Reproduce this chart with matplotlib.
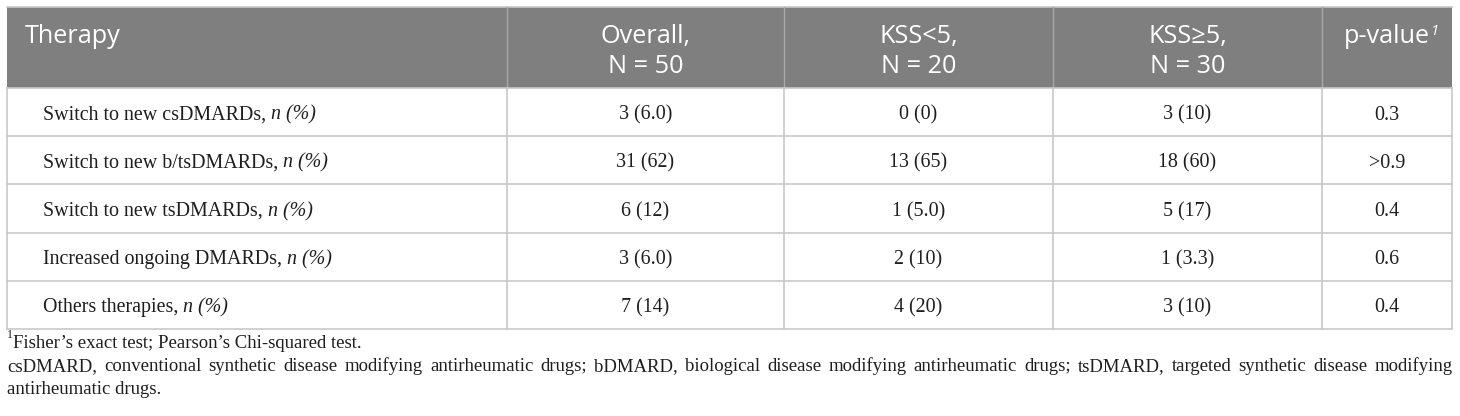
import matplotlib
matplotlib.use('Agg')
import matplotlib.pyplot as plt
from matplotlib.patches import Rectangle

# table content
header = ['Therapy', 'Overall,\nN = 50', 'KSS<5,\nN = 20', 'KSS≥5,\nN = 30', 'p-value']
therapy = ['Switch to new csDMARDs', 'Switch to new b/tsDMARDs', 'Switch to new tsDMARDs',
           'Increased ongoing DMARDs', 'Others therapies']
overall = ['3 (6.0)', '31 (62)', '6 (12)', '3 (6.0)', '7 (14)']
kss_lt5 = ['0 (0)', '13 (65)', '1 (5.0)', '2 (10)', '4 (20)']
kss_ge5 = ['3 (10)', '18 (60)', '5 (17)', '1 (3.3)', '3 (10)']
pvalue = ['0.3', '>0.9', '0.4', '0.6', '0.4']
note1 = 'Fisher’s exact test; Pearson’s Chi-squared test.'
note2 = ('csDMARD, conventional synthetic disease modifying antirheumatic drugs; bDMARD, '
         'biological disease modifying antirheumatic drugs; tsDMARD, targeted synthetic disease modifying')
note3 = 'antirheumatic drugs.'

# layout (pixels)
W, H = 1460, 416
col_x = [7, 507, 784, 1053, 1322, 1452]
top = 7
head_bot = 88
row_h = 48.2
grid = '#c8c8c8'
head_bg = '#7f7f7f'
ink = '#1e1e1e'
serif = 'Liberation Serif'
sans = ['Open Sans', 'DejaVu Sans']
body_fs = 14.4
head_fs = 18.2
note_fs = 13.5

fig = plt.figure(figsize=(W / 100, H / 100), dpi=100)
ax = fig.add_axes([0, 0, 1, 1])
ax.set_xlim(0, W)
ax.set_ylim(H, 0)
ax.axis('off')
rend = fig.canvas.get_renderer()


def width(t):
    return t.get_window_extent(renderer=rend).width


def run(x, y, pieces, fs, family):
    # draw text pieces one after another on the same baseline
    for s, style in pieces:
        t = ax.text(x, y, s, fontsize=fs, family=family, style=style,
                    color=ink, va='baseline', ha='left')
        x += width(t)
    return x


# header
ax.add_patch(Rectangle((col_x[0], top), col_x[-1] - col_x[0], head_bot - top,
                       facecolor=head_bg, edgecolor='none'))
ax.plot([col_x[0], col_x[-1]], [top, top], color=grid, lw=1.2)
for xv in col_x[1:-1]:
    ax.plot([xv, xv], [top, head_bot], color='#a8a8a8', lw=1)

ax.text(col_x[0] + 18, 43, header[0], fontsize=head_fs, family=sans, color='white',
        va='baseline', ha='left')
for i in range(1, 5):
    cx = (col_x[i] + col_x[i + 1]) / 2
    for k, line in enumerate(header[i].split('\n')):
        t = ax.text(cx, 43 + 30 * k, line, fontsize=head_fs, family=sans, color='white',
                    va='baseline', ha='center')
# superscript on p-value
pw = width(t)
ax.text((col_x[4] + col_x[5]) / 2 + pw / 2 + 1, 35, '1', fontsize=10.5, family=sans,
        style='italic', color='white', va='baseline', ha='left')

# body
n = len(therapy)
bot = head_bot + n * row_h
for i in range(n + 1):
    y = head_bot + i * row_h
    ax.plot([col_x[0], col_x[-1]], [y, y], color=grid, lw=1.2)
for xv in col_x:
    ax.plot([xv, xv], [head_bot, bot], color=grid, lw=1.2)

for i in range(n):
    base = head_bot + (i + 0.5) * row_h + 7.5
    run(col_x[0] + 36, base, [(therapy[i] + ', ', 'normal'), ('n (%)', 'italic')], body_fs, serif)
    for j, col in enumerate([overall, kss_lt5, kss_ge5, pvalue]):
        cx = (col_x[j + 1] + col_x[j + 2]) / 2
        ax.text(cx, base, col[i], fontsize=body_fs, family=serif, color=ink,
                va='baseline', ha='center')

# footnotes
ax.text(col_x[0], 338, '1', fontsize=8.5, family=serif, color=ink, va='baseline')
ax.text(col_x[0] + 6, 348, note1, fontsize=note_fs, family=serif, color=ink, va='baseline')

# justified line
words = note2.split(' ')
arts = [ax.text(0, 371, w_, fontsize=note_fs, family=serif, color=ink, va='baseline')
        for w_ in words]
ws = [width(a) for a in arts]
gap = (col_x[-1] + 1 - col_x[0] - sum(ws)) / (len(words) - 1)
x = col_x[0]
for a, w_ in zip(arts, ws):
    a.set_x(x)
    x += w_ + gap
ax.text(col_x[0], 394, note3, fontsize=note_fs, family=serif, color=ink, va='baseline')

fig.savefig('out.png', dpi=100)
